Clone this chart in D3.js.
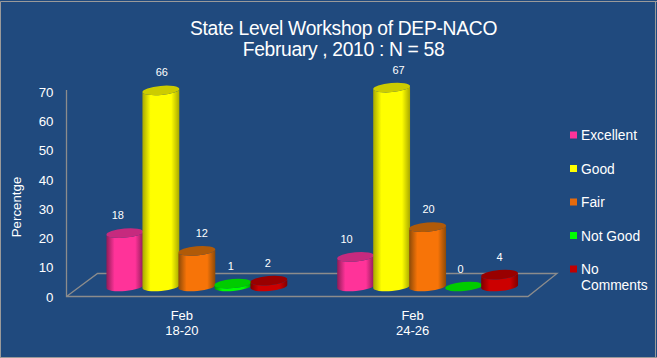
<!DOCTYPE html>
<html>
<head>
<meta charset="utf-8">
<script src="https://cdn.jsdelivr.net/npm/d3@7/dist/d3.min.js"></script>
<style>
html,body{margin:0;padding:0;background:#204a7e;overflow:hidden}
svg{display:block}
text{font-family:"Liberation Sans",Arial,sans-serif;fill:#fff}
</style>
</head>
<body>
<svg id="c" width="657" height="358"></svg>
<script>
const categories = ["18-20", "24-26"];
const categoryPrefix = "Feb";
const seriesNames = ["Excellent", "Good", "Fair", "Not Good", "No Comments"];
const valuesFeb1820 = [18, 66, 12, 1, 2];
const valuesFeb2426 = [10, 67, 20, 0, 4];
const yTicks = [0, 10, 20, 30, 40, 50, 60, 70];
const bright = ["#ff3399", "#ffff00", "#f77408", "#00ff00", "#cc0000"];
const dark = ["#8f1c58", "#a8a800", "#8c4a08", "#009900", "#800000"];
const topCap = ["#c62a7e", "#cccc00", "#b05a08", "#00cc00", "#990000"];
const legendCol = ["#ff3399", "#ffff00", "#e56a0c", "#00ff00", "#c00000"];
const labelNudge = [[-7, 1, 5, -2, -1], [-9, 7, 1, -3, 0]];
const table = [valuesFeb1820, valuesFeb2426];

const svg = d3.select("#c");
const W = 657, H = 358;
svg.append("rect").attr("width", W).attr("height", H).attr("fill", "#204a7e");
svg.append("path").attr("d", `M0.5 ${H}V1.5H${W}`).attr("fill", "none").attr("stroke", "#9a9a9a").attr("stroke-width", 1);
svg.append("path").attr("d", `M655.5 1V${H}`).attr("fill", "none").attr("stroke", "#9a9a9a");
svg.append("path").attr("d", `M0 357.5H${W}`).attr("fill", "none").attr("stroke", "#9a9a9a");

// gradients
const defs = svg.append("defs");
seriesNames.forEach((s, i) => {
  const g = defs.append("linearGradient").attr("id", "g" + i);
  [[0, dark[i]], [0.22, bright[i]], [0.78, bright[i]], [1, dark[i]]].forEach(d =>
    g.append("stop").attr("offset", d[0]).attr("stop-color", d[1]));
});

// scales
const y = d3.scaleLinear().domain([0, 70]).range([297, 92]);
const barY = d3.scaleLinear().domain([0, 70]).range([286.5, 78.6]);
const x = d3.scaleBand().domain(categories).range([66.5, 528]);
const depthX = 15;
const groupW = 180;
const sx = d3.scaleBand().domain(seriesNames).range([-groupW / 2, groupW / 2]);

// floor + y wall line
const grey = "#8c8c8c";
const fx0 = x.range()[0], fx1 = x.range()[1], fy = y(0) - 0.5;
svg.append("path")
  .attr("d", `M${fx0} ${y(70) - 2}V${fy}H${fx1}L${fx1 + 29} ${fy - 23}H${fx0 + 31}L${fx0} ${fy}`)
  .attr("fill", "none").attr("stroke", grey).attr("stroke-width", 1.3);

// y axis
const axis = d3.axisLeft(y).tickValues(yTicks).tickSize(0).tickPadding(13);
const ax = svg.append("g").attr("transform", `translate(${fx0},0)`).call(axis);
ax.select(".domain").remove();
ax.selectAll("text").style("font-size", "13.3px").style("font-family", '"Liberation Sans",Arial,sans-serif').attr("fill", "#fff");

svg.append("text").attr("transform", "translate(21,207) rotate(-90)")
  .attr("text-anchor", "middle").style("font-size", "13.3px").text("Percentge");

// title
svg.append("text").attr("x", 343.5).attr("y", 35).attr("text-anchor", "middle").style("font-size", "19.3px").style("letter-spacing", "-0.3px").text("State Level Workshop of DEP-NACO");
svg.append("text").attr("x", 343.5).attr("y", 56).attr("text-anchor", "middle").style("font-size", "19.3px").style("letter-spacing", "-0.33px").text("February , 2010 : N = 58");

// category labels
categories.forEach(c => {
  const cx = x(c) + x.bandwidth() / 2;
  svg.append("text").attr("x", cx).attr("y", 320).attr("text-anchor", "middle").style("font-size", "13px").text(categoryPrefix);
  svg.append("text").attr("x", cx).attr("y", 335).attr("text-anchor", "middle").style("font-size", "13px").text(c);
});

// cylinders
const rot = -5, rad = rot * Math.PI / 180;
categories.forEach((c, gi) => {
  const gx = x(c) + x.bandwidth() / 2 + depthX;
  table[gi].forEach((v, si) => {
    const rx = sx.bandwidth() / 2 + 0.5, ry = 4.6;
    const cx = gx + sx(seriesNames[si]) + sx.bandwidth() / 2;
    const yb = barY(0), yt = barY(v);
    const dx = rx * Math.cos(rad), dy = rx * Math.sin(rad);
    const g = svg.append("g");
    if (v > 0) {
      g.append("path")
        .attr("d", `M${cx - dx} ${yt - dy}L${cx - dx} ${yb - dy}A${rx} ${ry} ${rot} 0 0 ${cx + dx} ${yb + dy}L${cx + dx} ${yt + dy}A${rx} ${ry} ${rot} 0 1 ${cx - dx} ${yt - dy}Z`)
        .attr("fill", `url(#g${si})`);
    }
    g.append("ellipse").attr("rx", rx).attr("ry", ry)
      .attr("transform", `translate(${cx},${yt}) rotate(${rot})`)
      .attr("fill", topCap[si]);
    svg.append("text").attr("x", cx + labelNudge[gi][si]).attr("y", yt - 14)
      .attr("text-anchor", "middle").style("font-size", "11px").text(v);
  });
});

// legend
const ly = d3.scalePoint().domain(seriesNames).range([135, 269]);
seriesNames.forEach((s, i) => {
  const yy = ly(s);
  svg.append("rect").attr("x", 570).attr("y", yy - 3.5).attr("width", 7).attr("height", 7).attr("fill", legendCol[i]);
  const words = s === "No Comments" ? ["No", "Comments"] : [s];
  words.forEach((w, k) => svg.append("text").attr("x", 581).attr("y", yy + 5 + k * 16).style("font-size", "13.8px").text(w));
});
</script>
</body>
</html>
